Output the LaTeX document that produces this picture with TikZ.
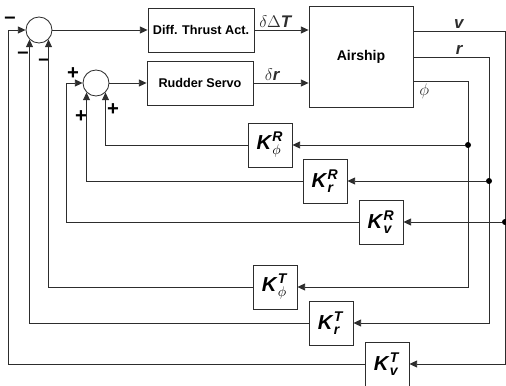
\documentclass[tikz,border=0pt]{standalone}
\usepackage{fontspec}
\setmainfont{Liberation Sans}
\usepackage{amsmath}
\usetikzlibrary{arrows.meta, positioning, calc}
\definecolor{clrLn}{RGB}{45,45,45}
\newcommand{\gainlbl}[2]{\textbf{\textit{K}}$^{\textbf{\textit{#1}}}_{#2}$}
\tikzset{
  sumnode/.style={circle, draw=clrLn, line width=0.6pt, minimum size=0.65cm, inner sep=0pt},
  blkbox/.style={rectangle, draw=clrLn, line width=0.6pt, font=\small\bfseries,
    minimum width=2.65cm, minimum height=1.1cm, inner sep=0pt},
  gainbox/.style={rectangle, draw=clrLn, line width=0.6pt, font=\Large,
    minimum size=1.1cm, inner sep=0pt},
  sgn/.style={font=\Large\bfseries, inner sep=0pt},
  siglbl/.style={font=\large, inner sep=1.5pt},
  junc/.style={circle, fill=black, minimum size=0.15cm, inner sep=0pt},
  arr/.style={-{Triangle[length=5.5pt,width=5pt]}, line width=0.6pt, color=clrLn},
}

\begin{document}
\begin{tikzpicture}[x=0.025cm, y=-0.025cm]
\useasboundingbox (0,0) rectangle (506,386);
\node[sumnode] (s1) at (39,30) {};
\node[sumnode] (s2) at (96,83) {};
\node[blkbox] (dta) at (201,30) {Diff. Thrust Act.};
\node[blkbox] (rs) at (200,83) {Rudder Servo};
\node[blkbox, minimum width=2.6cm, minimum height=2.525cm, font=\bfseries] (air) at (361,56.5) {Airship};
\node[gainbox] (kpr) at (270,145) {\gainlbl{R}{\phi}};
\node[gainbox] (krr) at (325,181) {\gainlbl{R}{\textbf{\textit{r}}}};
\node[gainbox] (kvr) at (381,222) {\gainlbl{R}{\textbf{\textit{v}}}};
\node[gainbox] (kpt) at (275,287) {\gainlbl{T}{\phi}};
\node[gainbox] (krt) at (331,323) {\gainlbl{T}{\textbf{\textit{r}}}};
\node[gainbox] (kvt) at (387,364) {\gainlbl{T}{\textbf{\textit{v}}}};
\node[sgn] (m1) at (10,20) {\textendash};
\node[sgn] (m2) at (23,55) {\textendash};
\node[sgn] (m3) at (44,62) {\textendash};
\node[sgn] (p1) at (73,74) {+};
\node[sgn] (p2) at (81,117) {+};
\node[sgn] (p3) at (113,110) {+};
\coordinate (vt) at (505,31);
\coordinate (rt) at (489,57);
\coordinate (pt) at (468,81);
\coordinate (l1) at (8,30);
\coordinate (l2) at (66,83);
\draw[arr] (s1) -- (dta);
\draw[arr] (s2) -- (rs);
\draw[arr] (dta.east) -- node[siglbl, above, xshift=-4pt] {$\delta\Delta$\textbf{\textit{T}}} (dta.east -| air.west);
\draw[arr] (rs.east) -- node[siglbl, above, xshift=-6pt] {$\delta$\textbf{\textit{r}}} (rs.east -| air.west);
\draw[arr] (air.east |- vt) -- node[siglbl, above] {\textbf{\textit{v}}} (vt) |- (kvt.east);
\draw[arr] (air.east |- rt) -- node[siglbl, above, xshift=6pt] {\textbf{\textit{r}}} (rt) |- (krt.east);
\draw[arr] (air.east |- pt) -- node[siglbl, below, pos=0.2] {$\phi$} (pt) |- (kpt.east);
\node[junc] (jv) at (vt |- kvr.east) {};
\node[junc] (jr) at (rt |- krr.east) {};
\node[junc] (jp) at (pt |- kpr.east) {};
\draw[arr] (jv) -- (kvr.east);
\draw[arr] (jr) -- (krr.east);
\draw[arr] (jp) -- (kpr.east);
\draw[arr] (kpr.west) -| (s2.south east);
\draw[arr] (krr.west) -| (s2.south west);
\draw[arr] (kvr.west) -| (l2) -- (s2.west);
\draw[arr] (kpt.west) -| (s1.south east);
\draw[arr] (krt.west) -| (s1.south west);
\draw[arr] (kvt.west) -| (l1) -- (s1.west);
\end{tikzpicture}
\end{document}
